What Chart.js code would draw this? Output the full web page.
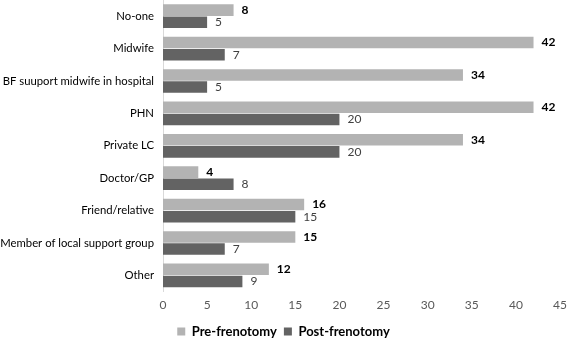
<!DOCTYPE html>
<html>
<head>
<meta charset="utf-8">
<script src="https://cdn.jsdelivr.net/npm/chart.js@4/dist/chart.umd.min.js"></script>
<style>
  html, body { margin: 0; padding: 0; background: #fff; }
  #wrap { width: 567px; height: 338px; position: relative; }
</style>
</head>
<body>
<div id="wrap"><canvas id="supportChart"></canvas></div>
<script>
const categories = ['No-one', 'Midwife', 'BF suuport midwife in hospital', 'PHN', 'Private LC',
    'Doctor/GP', 'Friend/relative', 'Member of local support group', 'Other'];
const preValues = [8, 42, 34, 42, 34, 4, 16, 15, 12];
const postValues = [5, 7, 5, 20, 20, 8, 15, 7, 9];
const xTicks = [0, 5, 10, 15, 20, 25, 30, 35, 40, 45];

const fontFamily = "Lato, 'Open Sans', sans-serif";

// value labels next to each bar end
const barLabels = {
    id: 'barLabels',
    afterDatasetsDraw(chart) {
        const ctx = chart.ctx;
        chart.data.datasets.forEach(function (ds, i) {
            const meta = chart.getDatasetMeta(i);
            ctx.save();
            ctx.font = (i === 0 ? 'bold ' : '') + '12px ' + fontFamily;
            ctx.fillStyle = i === 0 ? '#000' : '#404040';
            ctx.textAlign = 'left';
            ctx.textBaseline = 'middle';
            meta.data.forEach(function (bar, j) {
                ctx.fillText(ds.data[j], bar.x + 8, bar.y);
            });
            ctx.restore();
        });
    }
};

new Chart(document.getElementById('supportChart'), {
    type: 'bar',
    data: {
        labels: categories,
        datasets: [{
            label: 'Pre-frenotomy',
            data: preValues,
            backgroundColor: '#b3b3b3',
            barPercentage: 0.95,
            categoryPercentage: 0.75
        }, {
            label: 'Post-frenotomy',
            data: postValues,
            backgroundColor: '#636363',
            barPercentage: 0.95,
            categoryPercentage: 0.75
        }]
    },
    options: {
        indexAxis: 'y',
        responsive: true,
        maintainAspectRatio: false,
        animation: false,
        layout: { padding: 0 },
        scales: {
            x: {
                min: 0,
                max: 45,
                afterBuildTicks(axis) { axis.ticks = xTicks.map(v => ({ value: v })); },
                afterFit(axis) { axis.paddingRight = 7; axis.paddingLeft = 0; },
                grid: { display: false, drawTicks: false },
                border: { display: false },
                ticks: { color: '#595959', font: { size: 12, family: fontFamily }, padding: 6 }
            },
            y: {
                afterFit(axis) { axis.paddingTop = 0; axis.paddingBottom = 0; axis.width = 163; },
                grid: { display: false, drawTicks: false },
                border: { color: '#d9d9d9', width: 1 },
                ticks: { color: '#000', font: { size: 11.3, family: fontFamily }, padding: 9 }
            }
        },
        plugins: {
            legend: {
                position: 'bottom',
                maxHeight: 20,
                labels: {
                    boxWidth: 8,
                    boxHeight: 8,
                    padding: 7,
                    color: '#000',
                    font: { size: 13, weight: 'bold', family: fontFamily }
                }
            },
            tooltip: { enabled: false }
        }
    },
    plugins: [barLabels]
});
</script>
</body>
</html>
